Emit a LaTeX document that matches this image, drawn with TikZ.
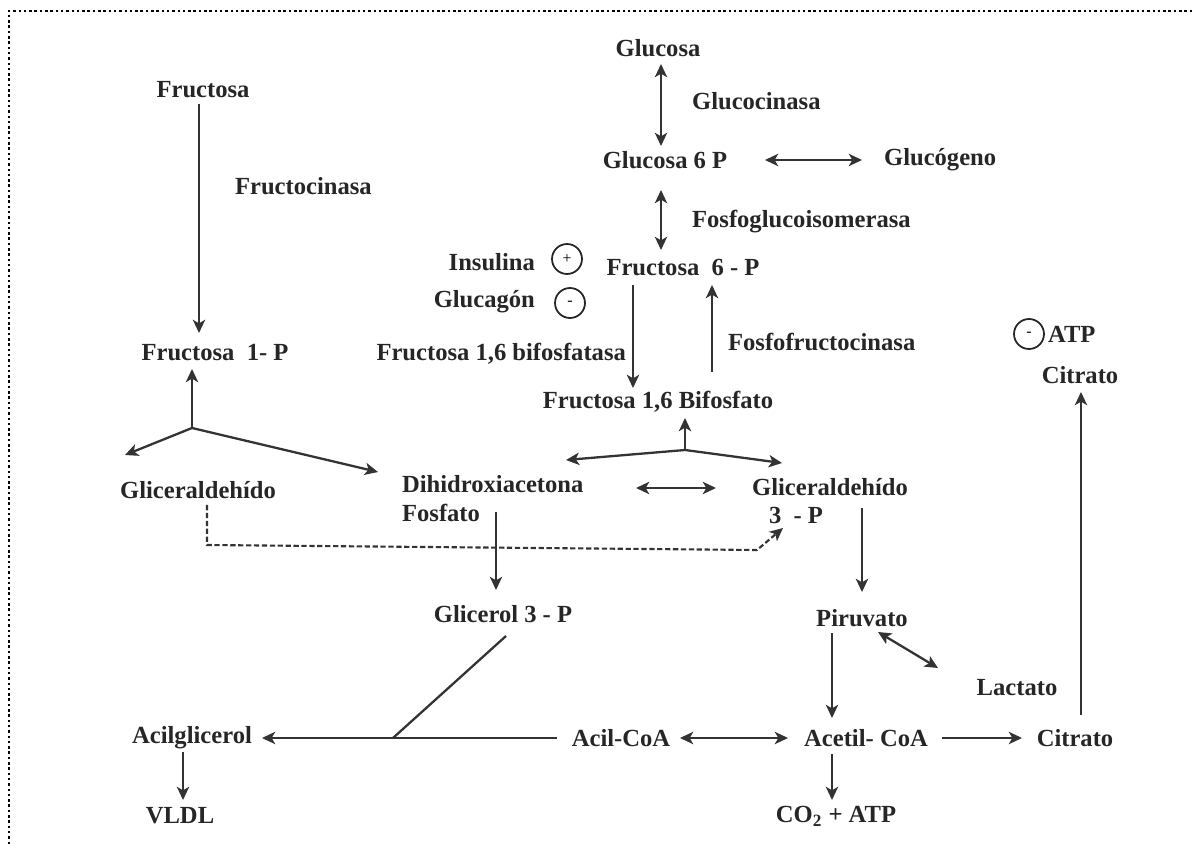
\documentclass[tikz,border=0pt]{standalone}
\usepackage{fontspec}
\setmainfont{Liberation Serif}
\usetikzlibrary{arrows.meta,calc}
\begin{document}
\begin{tikzpicture}[x=0.02cm,y=-0.02cm,
  lbl/.style={font=\bfseries\fontsize{14}{16.5}\selectfont, inner sep=1pt, text=black!85},
  tip/.style={},
  arr/.style={line width=1.3pt, draw=black!80, -{Stealth[length=7.5pt,width=7pt,inset=2pt]}},
  both/.style={line width=1.3pt, draw=black!80, {Stealth[length=7.5pt,width=7pt,inset=2pt]}-{Stealth[length=7.5pt,width=7pt,inset=2pt]}},
  ln/.style={line width=1.3pt, draw=black!80},
  dsh/.style={line width=1.2pt, draw=black!80, dash pattern=on 3pt off 1.5pt, -{Stealth[length=7.5pt,width=7pt,inset=2pt]}},
  sig/.style={circle, draw=black!85, line width=1pt, minimum size=0.6cm, inner sep=0pt, font=\small},
  border/.style={line width=0.05cm, dash pattern=on 0.05cm off 0.056cm}]
\useasboundingbox (0,0) rectangle (1194,844);
\draw[border] (9,844) -- (9,11) -- (1194,11);

% nodes
\node[lbl] (glc) at (658,48) {Glucosa};
\node[lbl,anchor=west] (glck) at (690,101) {Glucocinasa};
\node[lbl] (g6p) at (665,160) {Glucosa 6 P};
\node[lbl,anchor=west] (glg) at (882,160) {Glucógeno};
\node[lbl,anchor=west] (fgi) at (690,222) {Fosfoglucoisomerasa};
\node[lbl] (f6p) at (683,268) {Fructosa\ \ 6 - P};
\node[lbl,anchor=east] (ins) at (537,262) {Insulina};
\node[sig] (cp) at (567,259) {+};
\node[lbl,anchor=east] (glu) at (537,302) {Glucagón};
\node[sig] (cm) at (570,303) {-};
\node[lbl,anchor=east] (fbpasa) at (628,354) {Fructosa 1,6 bifosfatasa};
\node[lbl,anchor=west] (pfk) at (726,342) {Fosfofructocinasa};
\node[lbl] (fbp) at (658,402) {Fructosa 1,6 Bifosfato};
\node[lbl,anchor=west,align=left] (dhap) at (400,499) {Dihidroxiacetona\\Fosfato};
\node[lbl] (g3p) at (830,487) {Gliceraldehído};
\node[lbl] (g3pp) at (796,515) {3\ \ - P};
\node[lbl] (gol) at (503,614) {Glicerol 3 - P};
\node[lbl] (fru) at (203,90) {Fructosa};
\node[lbl,anchor=west] (fruk) at (233,186) {Fructocinasa};
\node[lbl] (f1p) at (215,353) {Fructosa\ \ 1- P};
\node[lbl] (glia) at (198,490) {Gliceraldehído};
\node[lbl] (pyr) at (862,618) {Piruvato};
\node[lbl] (lac) at (1017,688) {Lactato};
\node[lbl] (acoa) at (866,738) {Acetil- CoA};
\node[lbl] (acil) at (621,738) {Acil-CoA};
\node[lbl] (cit) at (1075,738) {Citrato};
\node[lbl] (co2) at (836,816) {CO\textsubscript{2} + ATP};
\node[lbl] (cit2) at (1080,375) {Citrato};
\node[sig] (ca) at (1029,334) {-};
\node[lbl,anchor=west] (atp) at (1046,334) {ATP};
\node[lbl] (acg) at (192,738) {Acilglicerol};
\node[lbl] (vldl) at (180,816) {VLDL};

\coordinate (j1) at (685,450);
\coordinate (j2) at (192,428);
\coordinate (j3) at (393,738);

% connectors
\draw[both] ($(glc.center)+(3,16)$) -- ($(g6p.center)+(-4,-14)$);
\draw[both] ($(g6p.center)+(100,0)$) -- ($(glg.west)+(-20,0)$);
\draw[both] ($(g6p.center)+(-4,30)$) -- ($(f6p.center)+(-22,-18)$);
\draw[arr] ($(f6p.center)+(-50,17)$) -- ($(fbp.center)+(-25,-14)$);
\draw[arr] ($(fbp.center)+(54,-30)$) -- ($(f6p.center)+(29,17)$);
\draw[arr] (j1) -- ($(fbp.center)+(27,16)$);
\draw[arr] (j1) -- ($(dhap.west)+(166,-39)$);
\draw[arr] (j1) -- ($(g3p.center)+(-48,-24)$);
\draw[both] ($(dhap.west)+(236,-11)$) -- ($(g3p.center)+(-114,1)$);
\draw[arr] ($(dhap.west)+(96,13)$) -- ($(gol.center)+(-7,-24)$);
\draw[arr] ($(g3p.center)+(32,21)$) -- ($(pyr.center)+(0,-26)$);
\draw[arr] ($(fru.center)+(-4,14)$) -- ($(f1p.center)+(-16,-20)$);
\draw[arr] (j2) -- ($(f1p.center)+(-23,16)$);
\draw[arr] (j2) -- ($(glia.center)+(-73,-35)$);
\draw[arr] (j2) -- ($(dhap.west)+(-22,-27)$);
\draw[dsh] ($(glia.center)+(9,15)$) -- ++(0,40) -- ++(550,5) -- ($(g3pp.center)+(-13,13)$);
\draw[ln] ($(gol.center)+(3,22)$) -- (j3);
\draw[arr] ($(acil.center)+(-64,0)$) -- ($(acg.center)+(70,0)$);
\draw[both] ($(acil.center)+(59,0)$) -- ($(acoa.center)+(-78,0)$);
\draw[arr] ($(acoa.center)+(76,0)$) -- ($(cit.center)+(-53,0)$);
\draw[arr] ($(pyr.center)+(-30,15)$) -- ($(acoa.center)+(-34,-20)$);
\draw[both] ($(pyr.center)+(16,14)$) -- ($(lac.center)+(-79,-20)$);
\draw[arr] ($(acoa.center)+(-34,16)$) -- ($(co2.center)+(-4,-16)$);
\draw[arr] ($(cit.center)+(6,-23)$) -- ($(cit2.center)+(1,17)$);
\draw[arr] ($(acg.center)+(-9,14)$) -- ($(vldl.center)+(3,-16)$);
\end{tikzpicture}
\end{document}
